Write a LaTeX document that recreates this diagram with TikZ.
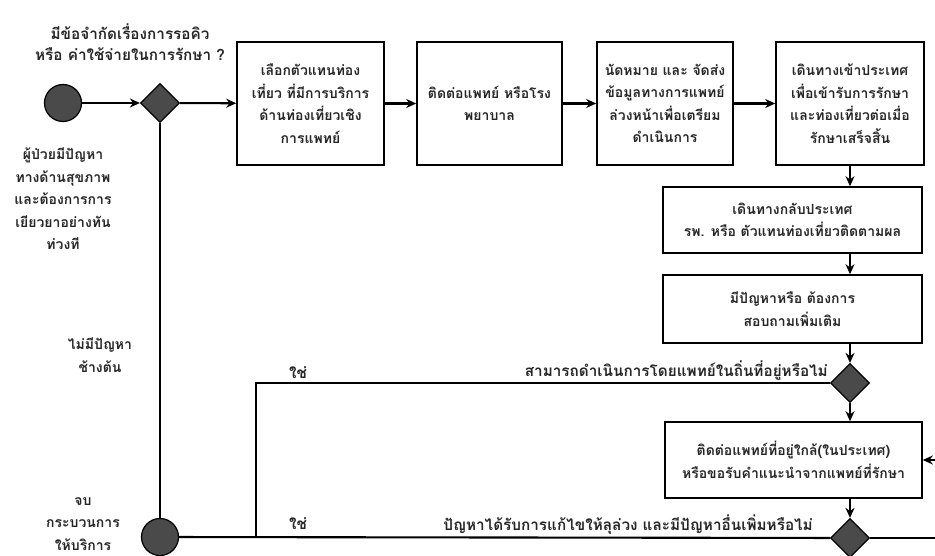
\documentclass[tikz,border=0pt]{standalone}
\usepackage{fontspec}
\usepackage{xcolor}
\usepackage{tikz}
\usetikzlibrary{positioning,arrows.meta,shapes.geometric,calc}
\newfontfamily\thaifont[Script=Thai]{Loma}
\definecolor{nodegray}{RGB}{74,74,74}

\begin{document}
\begin{tikzpicture}[x=1pt, y=-1pt,
  every node/.style={font=\thaifont\bfseries\fontsize{14}{22.5}\selectfont, text=black!85},
  box/.style={draw, line width=1.6pt, align=center, inner sep=2pt},
  dot/.style={circle, draw, fill=nodegray, line width=1.2pt, minimum size=37pt, inner sep=0pt},
  gate/.style={diamond, draw, fill=nodegray, line width=1.2pt, minimum size=39pt, inner sep=0pt},
  arr/.style={-{Stealth[length=10pt, width=9pt]}, line width=2.1pt},
  ln/.style={line width=2.1pt},
  lab/.style={align=center, inner sep=1pt},
  qlab/.style={lab, font=\thaifont\bfseries\fontsize{15.3}{21}\selectfont},
]
\useasboundingbox (0,0) rectangle (935,556);

% ====== top row ======
\node[qlab] (q1) at (130, 42) {มีข้อจำกัดเรื่องการรอคิว\\หรือ ค่าใช้จ่ายในการรักษา ?};
\node[dot]  (start) at (63, 103) {};
\node[gate] (d1)    at (160, 103) {};
\node[box, minimum width=147pt, minimum height=123pt] (b1) at (310.5, 103.5)
  {เลือกตัวแทนท่อง\\เที่ยว ที่มีการบริการ\\ด้านท่องเที่ยวเชิง\\การแพทย์};
\node[box, minimum width=145pt, minimum height=123pt] (b2) at (489.5, 103.5)
  {ติดต่อแพทย์ หรือโรง\\พยาบาล};
\node[box, minimum width=136pt, minimum height=123pt] (b3) at (665, 103.5)
  {นัดหมาย และ จัดส่ง\\ข้อมูลทางการแพทย์\\ล่วงหน้าเพื่อเตรียม\\ดำเนินการ};
\node[box, minimum width=148pt, minimum height=123pt] (b4) at (850, 103.5)
  {เดินทางเข้าประเทศ\\เพื่อเข้ารับการรักษา\\และท่องเที่ยวต่อเมื่อ\\รักษาเสร็จสิ้น};

\draw[arr] (start) -- (d1);
\draw[arr] (d1) -- (b1);
\draw[arr] (b1) -- (b2);
\draw[arr] (b2) -- (b3);
\draw[arr] (b3) -- (b4);

% ====== right column ======
\node[box, minimum width=259pt, minimum height=66pt] (b5) at (792.5, 220)
  {เดินทางกลับประเทศ\\รพ. หรือ ตัวแทนท่องเที่ยวติดตามผล};
\node[box, minimum width=259pt, minimum height=68pt] (b6) at (792.5, 309)
  {มีปัญหาหรือ ต้องการ\\สอบถามเพิ่มเติม};
\node[gate] (d2) at (850, 383) {};
\node[box, minimum width=257pt, minimum height=76pt] (b7) at (793.5, 460)
  {ติดต่อแพทย์ที่อยู่ใกล้(ในประเทศ)\\หรือขอรับคำแนะนำจากแพทย์ที่รักษา};
\node[gate] (d3) at (850, 538) {};

\draw[arr] (b4.south) -- (b4.south |- b5.north);
\draw[arr] (b5.south -| d2) -- (b6.north -| d2);
\draw[arr] (b6.south -| d2) -- (d2);
\draw[arr] (d2) -- (b7.north -| d2);
\draw[arr] (b7.south -| d3) -- (d3);
\draw[arr] (d3.east) -- ++(100,0) |- (b7.east);

% ====== left side and loops ======
\node[dot] (stop) at (160, 537) {};
\node[lab] (who)  at (63, 199) {ผู้ป่วยมีปัญหา\\ทางด้านสุขภาพ\\และต้องการการ\\เยียวยาอย่างทัน\\ท่วงที};
\node[lab] (noprob) at (100, 355) {ไม่มีปัญหา\\ช้างต้น};
\node[lab] (endlbl) at (83, 524) {จบ\\กระบวนการ\\ให้บริการ};

\coordinate (yline) at (256, 383);
\draw[ln] (d1) -- (stop);
\draw[ln] (d2) -- (yline) -- (yline |- stop);
\draw[ln] (d3) -- (stop);

\node[qlab] (yes1) at (298, 373) {ใช่};
\node[qlab] (yes2) at (298, 524) {ใช่};
\node[qlab, anchor=east] (q2) at (829, 371) {สามารถดำเนินการโดยแพทย์ในถิ่นที่อยู่หรือไม่};
\node[qlab, anchor=east] (q3) at (814, 525) {ปัญหาได้รับการแก้ไขให้ลุล่วง และมีปัญหาอื่นเพิ่มหรือไม่};

\end{tikzpicture}
\end{document}
